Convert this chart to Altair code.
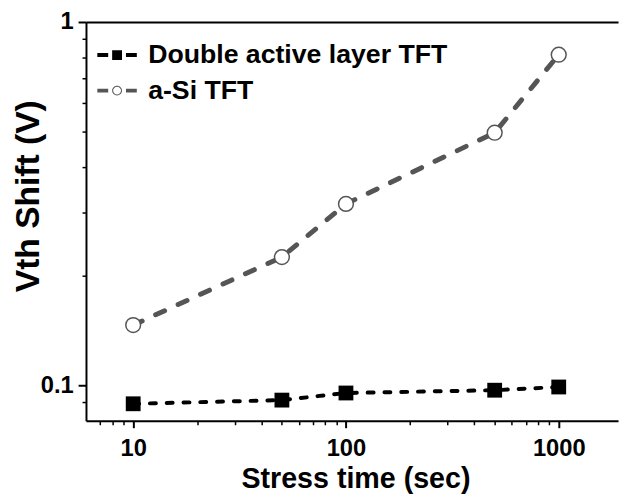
import altair as alt
import pandas as pd

# ---- data ----
time_s = [10, 50, 100, 500, 1000]
double_active = [0.0891, 0.0912, 0.0954, 0.0971, 0.0991]
a_si = [0.1467, 0.2256, 0.316, 0.496, 0.813]
series_names = ["Double active layer TFT", "a-Si TFT"]

x_major = [10, 100, 1000]
x_minor = [7, 8, 9, 20, 30, 40, 50, 60, 70, 80, 90, 200, 300, 400, 500, 600, 700, 800, 900]
y_major = [0.1, 1]
y_minor = [0.09, 0.2, 0.3, 0.4, 0.5, 0.6, 0.7, 0.8, 0.9]

df = pd.DataFrame({
    "time": time_s + time_s,
    "shift": double_active + a_si,
    "series": [series_names[0]] * len(time_s) + [series_names[1]] * len(time_s),
})

FONT = "Liberation Sans"
GRAY = "#555555"

xs = alt.Scale(type="log", domain=[6, 1900], nice=False)
ys = alt.Scale(type="log", domain=[0.08, 1], nice=False)

common_axis = dict(grid=False, domainColor="black", domainWidth=2, tickColor="black",
                   labelFont=FONT, labelFontWeight="bold", labelColor="black",
                   labelFlush=False, labelOverlap=False)


def is_major(values):
    return "indexof([" + ",".join(str(v) for v in values) + "], datum.value) >= 0"


x_axis = alt.Axis(
    orient="bottom", values=sorted(x_major + x_minor),
    labelExpr=is_major(x_major) + " ? '' + datum.value : ''",
    tickSize={"condition": {"test": is_major(x_major), "value": 7}, "value": 4},
    tickWidth={"condition": {"test": is_major(x_major), "value": 2}, "value": 1.5},
    labelFontSize=24, labelPadding=9,
    title="Stress time (sec)", titleFont=FONT, titleFontSize=29,
    titleFontWeight="bold", titleColor="black", titleX=273, titleY=68,
    titleBaseline="alphabetic", titleAlign="center", **common_axis)
x_top_axis = alt.Axis(orient="top", labels=False, ticks=False, title=None, **common_axis)

y_axis = alt.Axis(
    orient="left", values=sorted(y_major + y_minor),
    labelExpr=is_major(y_major) + " ? '' + datum.value : ''",
    tickSize={"condition": {"test": is_major(y_major), "value": 8}, "value": 4},
    tickWidth={"condition": {"test": is_major(y_major), "value": 2}, "value": 1.5},
    labelFontSize=24, labelPadding=5,
    title="Vth Shift (V)", titleFont=FONT, titleFontSize=34,
    titleFontWeight="bold", titleColor="black", titleX=-58, titleY=176,
    titleAngle=270, titleAlign="center", titleBaseline="middle", **common_axis)

base = alt.Chart(df)

line_asi = base.transform_filter(alt.datum.series == series_names[1]).mark_line(
    color=GRAY, strokeWidth=5, strokeDash=[10, 15], strokeCap="round"
).encode(
    x=alt.X("time:Q", scale=xs, axis=x_axis),
    y=alt.Y("shift:Q", scale=ys, axis=y_axis),
)

line_dbl = base.transform_filter(alt.datum.series == series_names[0]).mark_line(
    color="black", strokeWidth=4, strokeDash=[6, 11], strokeCap="round"
).encode(
    x=alt.X("time:Q", scale=xs, axis=None),
    y=alt.Y("shift:Q", scale=ys, axis=None),
)

pts_dbl = base.transform_filter(alt.datum.series == series_names[0]).mark_point(
    shape="square", filled=True, color="black", size=225, opacity=1
).encode(
    x=alt.X("time:Q", scale=xs, axis=x_top_axis),
    y=alt.Y("shift:Q", scale=ys, axis=None),
)

pts_asi = base.transform_filter(alt.datum.series == series_names[1]).mark_point(
    shape="circle", filled=True, fill="white", stroke=GRAY, strokeWidth=1.5, size=225, opacity=1
).encode(
    x=alt.X("time:Q", scale=xs, axis=None),
    y=alt.Y("shift:Q", scale=ys, axis=None),
)

path_sq = ("M-2,-0.2L-0.9,-0.2L-0.9,0.2L-2,0.2Z "
           "M-0.5,-0.5L0.5,-0.5L0.5,0.5L-0.5,0.5Z "
           "M0.9,-0.2L2,-0.2L2,0.2L0.9,0.2Z")
path_circ = ("M-2,-0.2L-0.9,-0.2L-0.9,0.2L-2,0.2Z "
             "M0.5,0A0.5,0.5,0,1,1,-0.5,0A0.5,0.5,0,1,1,0.5,0Z "
             "M0.4,0A0.4,0.4,0,1,0,-0.4,0A0.4,0.4,0,1,0,0.4,0Z "
             "M0.9,-0.2L2,-0.2L2,0.2L0.9,0.2Z")

leg = dict(orient="none", legendX=18, legendY=20, title=None, symbolSize=400, symbolOpacity=1,
           symbolStrokeWidth=0, labelFont=FONT, labelFontSize=27, labelFontWeight="bold",
           labelColor="black", labelOffset=18, rowPadding=8, padding=0, labelLimit=0)

legend_layer = base.mark_point(filled=True, opacity=0, size=400).encode(
    x=alt.X("time:Q", scale=xs, axis=None),
    y=alt.Y("shift:Q", scale=ys, axis=None),
    shape=alt.Shape("series:N", scale=alt.Scale(domain=series_names, range=[path_sq, path_circ]),
                    legend=alt.Legend(**leg)),
    color=alt.Color("series:N", scale=alt.Scale(domain=series_names, range=["black", GRAY]),
                    legend=alt.Legend(**leg)),
)

chart = alt.layer(line_asi, line_dbl, pts_dbl, pts_asi, legend_layer).resolve_axis(
    x="independent", y="independent"
).properties(
    width=539, height=404,
    padding={"left": 79, "top": 11, "right": 3, "bottom": 73},
    autosize=alt.AutoSizeParams(type="none"),
    background="white",
).configure_view(strokeWidth=0)

chart.save("out.html", embed_options={"renderer": "svg", "actions": False})
